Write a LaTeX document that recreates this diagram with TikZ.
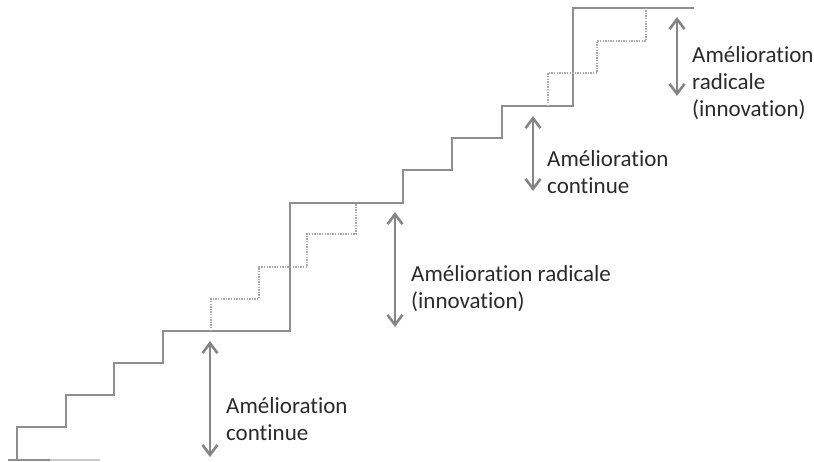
\documentclass[tikz,border=0pt]{standalone}
\usepackage{fontspec}
\setmainfont[Ligatures=NoCommon]{Carlito}
\usetikzlibrary{arrows.meta}
\definecolor{stairgray}{HTML}{8E8E8E}
\definecolor{dotgray}{HTML}{A8A8A8}
\definecolor{arrowgray}{HTML}{858585}
\definecolor{textgray}{HTML}{2A2A2A}
\tikzset{
  stair/.style={draw=stairgray, line width=1.6pt, line join=miter},
  dotstair/.style={draw=dotgray, line width=1.2pt, dash pattern=on 1.4pt off 1.2pt},
  gap/.style={draw=arrowgray, line width=2.8pt,
    {Straight Barb[length=10pt,width=15pt,line width=2.6pt]}-{Straight Barb[length=10pt,width=15pt,line width=2.6pt]}},
  % anchored at the baseline of the last line of each label
  lbl/.style={inner sep=0pt, align=left, anchor=base west, text=textgray,
    font=\fontsize{23pt}{27pt}\selectfont}
}
\begin{document}
\begin{tikzpicture}[x=1pt,y=-1pt]
\useasboundingbox (0,0) rectangle (814,461);

% ground line
\draw[stairgray, line width=1.6pt] (8,460) -- (50,460);
\draw[dotgray!60, line width=1.6pt] (50,460) -- (100,460);

% the solid staircase
\draw[stair] (17,460) -- (17,427) -- (66,427) -- (66,395) -- (114,395)
  -- (114,363) -- (163,363) -- (163,331) -- (290,331) -- (290,203)
  -- (403,203) -- (403,170) -- (452,170) -- (452,138) -- (502,138)
  -- (502,106) -- (573,106) -- (573,8) -- (694,8);

% small steps hidden inside the big jumps
\draw[dotstair] (211,331) -- (211,299) -- (259,299) -- (259,267) -- (307,267)
  -- (307,234) -- (356,234) -- (356,203);
\draw[dotstair] (548,106) -- (548,73) -- (597,73) -- (597,41) -- (646,41) -- (646,8);

% end points of the height markers
\coordinate (a1t) at (210,341);
\coordinate (a1b) at (210,457);
\coordinate (a2t) at (395,212);
\coordinate (a2b) at (395,327);
\coordinate (a3t) at (533,116);
\coordinate (a3b) at (533,191);
\coordinate (a4t) at (677,17);
\coordinate (a4b) at (677,96);

\draw[gap] (a1t) -- (a1b);
\draw[gap] (a2t) -- (a2b);
\draw[gap] (a3t) -- (a3b);
\draw[gap] (a4t) -- (a4b);

% labels
\node[lbl] (t1) at (226,440) {Amélioration\\continue};
\node[lbl] (t2) at (411,308) {Amélioration radicale\\(innovation)};
\node[lbl] (t3) at (547,193) {Amélioration\\continue};
\node[lbl] (t4) at (692,116) {Amélioration\\radicale\\(innovation)};
\end{tikzpicture}
\end{document}
